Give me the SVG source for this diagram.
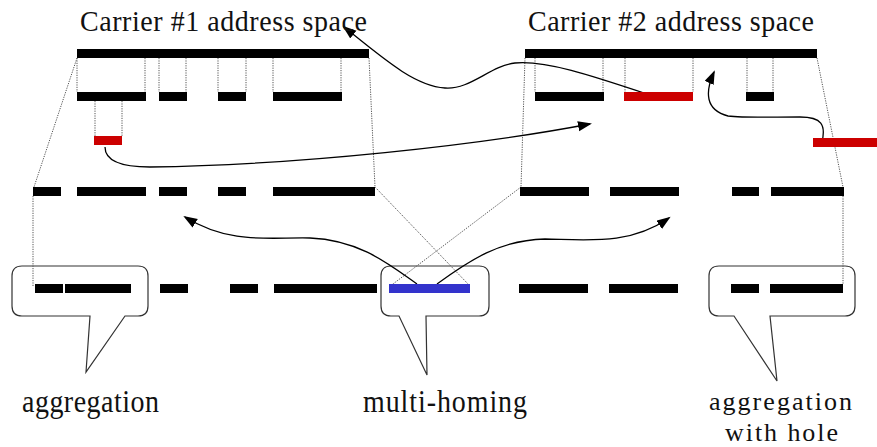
<svg xmlns="http://www.w3.org/2000/svg" width="877" height="447" viewBox="0 0 877 447">
<defs>
<style>
.lbl{font-family:'Liberation Serif','Times New Roman',serif;font-size:28px;fill:#111}
.blk{fill:#000}
.red{fill:#cc0000}
.blue{fill:#3333cc}
.callout{fill:#fff;stroke:#333;stroke-width:1.2}
.dot{fill:none;stroke:#555;stroke-width:1;stroke-dasharray:1.2 1.2}
.arr{fill:none;stroke:#000;stroke-width:1.3;marker-end:url(#ah)}
</style>
<marker id="ah" markerUnits="userSpaceOnUse" markerWidth="15" markerHeight="11" refX="12" refY="5" orient="auto">
<path d="M0,0 L14,5 L0,10 Z" fill="#000"/>
</marker>
</defs>
<rect width="877" height="447" fill="#fff"/>

<g id="callout-aggregation">
<path class="callout" d="M22,266 H138 Q148,266 148,276 V306 Q148,316 138,316 H125 L86,372 L90,316 H22 Q12,316 12,306 V276 Q12,266 22,266 Z"/>
</g>
<g id="callout-multihoming">
<path class="callout" d="M391,266 H479 Q489,266 489,276 V306 Q489,316 479,316 H426 L427,375 L399,316 H391 Q381,316 381,306 V276 Q381,266 391,266 Z"/>
</g>
<g id="callout-hole">
<path class="callout" d="M719,266 H845 Q855,266 855,276 V306 Q855,316 845,316 H770 L777,381 L734,316 H719 Q709,316 709,306 V276 Q709,266 719,266 Z"/>
</g>

<g id="connectors">
<g id="dotted-guides">
<path class="dot" d="M77,58 V92 M145,58 V92 M159,58 V92 M186,58 V92 M218,58 V92 M246,58 V92 M273,58 V92 M341,58 V92"/>
<path class="dot" d="M95,101 V136 M122,101 V136"/>
<path class="dot" d="M535,58 V92 M603,58 V92 M625,58 V92 M693,58 V92 M747,58 V92 M773,58 V92"/>
<path class="dot" d="M77,58 L34,187 M33,196 V287"/>
<path class="dot" d="M369,58 L375,187 L469,285"/>
<path class="dot" d="M525,58 L521,187 L389,287"/>
<path class="dot" d="M817,58 L843,187 M843,196 V284"/>
</g>
<g id="arrows">
<path class="arr" d="M650,95 C590,75 545,60 515,63 C490,66 470,90 445,88 C415,86 385,60 344,27"/>
<path class="arr" d="M105,147 C105,160 120,167 150,167 C300,165 480,145 590,124"/>
<path class="arr" d="M822,142 C826,125 822,117 800,117 C770,117 745,118 728,116 C705,110 705,92 714,72"/>
<path class="arr" d="M417,284 C390,265 360,240 310,238 C270,237 230,245 185,217"/>
<path class="arr" d="M437,284 C470,260 500,240 545,239 C590,240 630,245 669,218"/>
</g>
</g>

<g id="carrier1-space">
<rect class="blk" x="77" y="49" width="292" height="9"/>
</g>
<g id="carrier1-blocks">
<rect class="blk" x="77" y="92" width="69" height="9"/>
<rect class="blk" x="159" y="92" width="28" height="9"/>
<rect class="blk" x="218" y="92" width="28" height="9"/>
<rect class="blk" x="273" y="92" width="69" height="9"/>
</g>
<g id="carrier1-moved">
<rect class="red" x="94" y="136" width="28" height="9"/>
</g>
<g id="carrier2-space">
<rect class="blk" x="525" y="49" width="292" height="9"/>
</g>
<g id="carrier2-blocks">
<rect class="blk" x="535" y="92" width="69" height="9"/>
<rect class="red" x="624" y="92" width="69" height="9"/>
<rect class="blk" x="746" y="92" width="28" height="9"/>
</g>
<g id="carrier2-moved">
<rect class="red" x="813" y="138" width="64" height="9"/>
</g>
<g id="routes-row">
<rect class="blk" x="33" y="187" width="28" height="9"/>
<rect class="blk" x="77" y="187" width="69" height="9"/>
<rect class="blk" x="159" y="187" width="28" height="9"/>
<rect class="blk" x="218" y="187" width="28" height="9"/>
<rect class="blk" x="273" y="187" width="102" height="9"/>
<rect class="blk" x="520" y="187" width="69" height="9"/>
<rect class="blk" x="610" y="187" width="69" height="9"/>
<rect class="blk" x="732" y="187" width="27" height="9"/>
<rect class="blk" x="771" y="187" width="73" height="9"/>
</g>
<g id="table-row">
<rect class="blk" x="35" y="284" width="28" height="9"/>
<rect class="blk" x="65" y="284" width="66" height="9"/>
<rect class="blk" x="160" y="284" width="28" height="9"/>
<rect class="blk" x="230" y="284" width="28" height="9"/>
<rect class="blk" x="274" y="284" width="103" height="9"/>
<rect class="blue" x="389" y="284" width="81" height="9"/>
<rect class="blk" x="519" y="284" width="69" height="9"/>
<rect class="blk" x="609" y="284" width="69" height="9"/>
<rect class="blk" x="731" y="284" width="28" height="9"/>
<rect class="blk" x="770" y="284" width="73" height="9"/>
</g>

<g id="title-carrier1"><text class="lbl" transform="translate(80,31) scale(1,1.08)" textLength="287" lengthAdjust="spacing">Carrier #1 address space</text></g>
<g id="title-carrier2"><text class="lbl" transform="translate(528,31) scale(1,1.08)" textLength="286" lengthAdjust="spacing">Carrier #2 address space</text></g>
<g id="label-aggregation"><text class="lbl" transform="translate(22,412) scale(1,1.1)" textLength="137" lengthAdjust="spacing">aggregation</text></g>
<g id="label-multihoming"><text class="lbl" transform="translate(363,412) scale(1,1.1)" textLength="164" lengthAdjust="spacing">multi-homing</text></g>
<g id="label-hole">
<text class="lbl" style="font-size:26px" x="709" y="410" textLength="143" lengthAdjust="spacing">aggregation</text>
<text class="lbl" style="font-size:26px" x="725" y="441" textLength="113" lengthAdjust="spacing">with hole</text>
</g>
</svg>
